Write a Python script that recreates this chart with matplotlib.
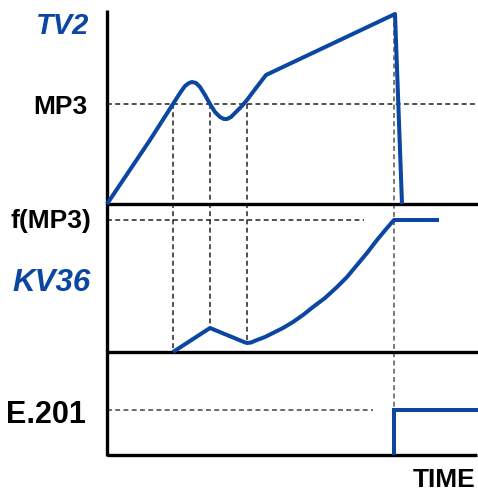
import matplotlib
matplotlib.use("Agg")
import matplotlib.pyplot as plt

plt.rcParams['font.family'] = ['Liberation Sans', 'DejaVu Sans']

BLUE = "#0B47A1"

# Schematic coordinates (time runs left->right, screen-like vertical units)
# TV2 signal (top panel)
tv2_t = [107, 150, 173, 180, 185, 189, 192, 196, 200, 205, 210, 215, 220, 224, 227, 231, 236, 241, 247, 256, 266, 395, 402]
tv2_v = [204, 140, 104, 93, 86, 83, 82, 83, 87, 95, 104, 112, 117, 119, 119, 117, 112, 107, 100, 88, 75, 14, 204]

# KV36 signal (middle panel)
kv36_t = [173, 210, 244, 247, 251, 257, 265, 273, 283, 293, 303, 313, 325, 337, 347, 357, 367, 377, 387, 394, 439]
kv36_v = [352, 328, 342, 343, 342.5, 340, 337, 333, 328, 322, 315, 307, 298, 287, 277, 265, 253, 240, 228, 220, 220]

# E.201 step (bottom panel)
e201_t = [394, 394, 478]
e201_v = [455, 410, 410]

# reference levels / event times
mp3_level = 104
fmp3_level = 220
e201_level = 410
event_times = [173, 210, 247]
event_ends = [352, 328, 343]
drop_time = 394

# axis structure
axis_x = 107
axis_top = 10
axis_bottom = 456
baselines = [204, 352, 455]
baseline_ends = [478, 478, 477]

labels = ["TV2", "MP3", "f(MP3)", "KV36", "E.201"]
label_y = [34, 114, 228, 291, 423]
label_size = [21, 19, 19, 22.5, 22]
label_color = [BLUE, "black", "black", BLUE, "black"]
label_style = ["italic", "normal", "normal", "italic", "normal"]
label_right = [89, 88, 91, 91, 86]

fig = plt.figure(figsize=(4.78, 4.91), dpi=100)
ax = fig.add_axes([0, 0, 1, 1])
ax.set_xlim(0, 478)
ax.set_ylim(491, 0)
ax.axis("off")

dash = dict(color="#222222", lw=1.1, dashes=(3.2, 2.2))

# dashed guide lines
ax.plot([axis_x, 478], [mp3_level, mp3_level], **dash)
ax.plot([axis_x, 364], [fmp3_level, fmp3_level], **dash)
ax.plot([axis_x, 373], [e201_level, e201_level], color="#444444", lw=1.1, dashes=(3.2, 2.2))
for t, e in zip(event_times, event_ends):
    ax.plot([t, t], [mp3_level, e], **dash)
ax.plot([drop_time, drop_time], [14, axis_bottom], color="#555555", lw=1.1, dashes=(3.2, 2.2))

# axes lines
ax.plot([axis_x, axis_x], [axis_top, axis_bottom], color="black", lw=2.4, solid_capstyle="butt")
for b, e in zip(baselines, baseline_ends):
    ax.plot([axis_x, e], [b, b], color="black", lw=2.4, solid_capstyle="butt")

# signals
ax.plot(tv2_t, tv2_v, color=BLUE, lw=2.9, solid_joinstyle="round", solid_capstyle="butt")
ax.plot(kv36_t, kv36_v, color=BLUE, lw=2.9, solid_joinstyle="round", solid_capstyle="butt")
ax.plot(e201_t, e201_v, color=BLUE, lw=2.9, solid_joinstyle="miter", solid_capstyle="butt")

# labels
for s, y, fs, c, st, xr in zip(labels, label_y, label_size, label_color, label_style, label_right):
    ax.text(xr, y, s, ha="right", va="baseline", fontsize=fs, fontweight="bold",
            color=c, style=st)
ax.text(476, 487, "TIME", ha="right", va="baseline", fontsize=19, fontweight="bold", color="black")

fig.savefig("out.png", dpi=100)
